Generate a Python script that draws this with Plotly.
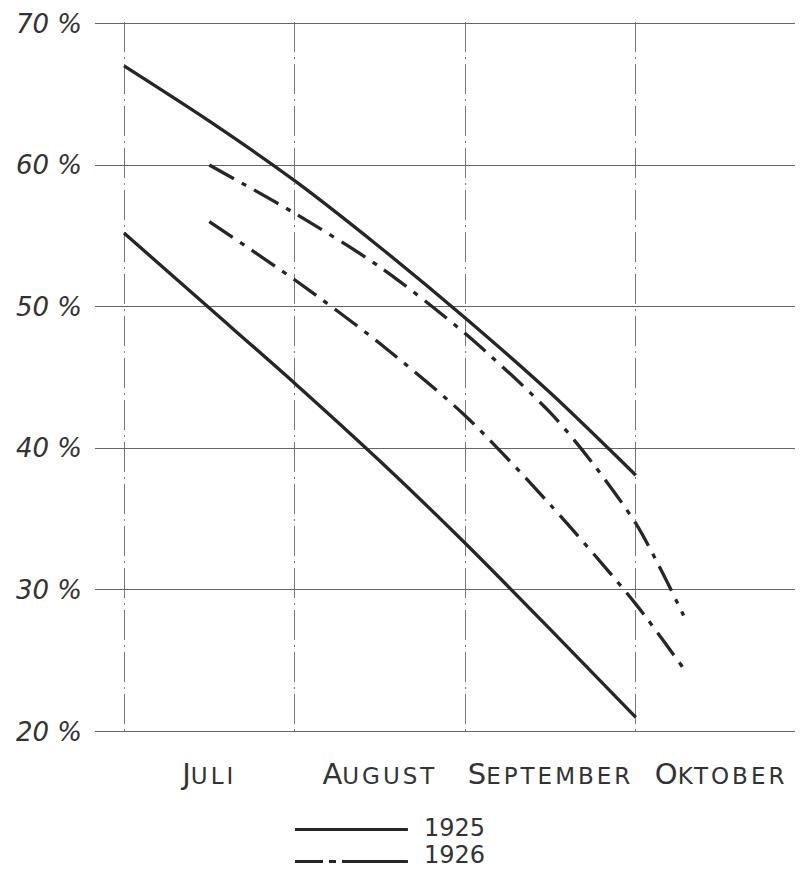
import plotly.graph_objects as go

# Months (0 = 1 July, 1 = 1 Aug, 2 = 1 Sep, 3 = 1 Oct)
month_ticks = [0.5, 1.5, 2.5, 3.5]
month_labels = ["Juli", "August", "September", "Oktober"]
boundary_months = [0, 1, 2, 3]

y_ticks = [20, 30, 40, 50, 60, 70]
y_labels = ["20 %", "30 %", "40 %", "50 %", "60 %", "70 %"]

# 1925 (solid)
x_1925 = [0, 0.5, 1, 1.5, 2, 2.5, 3]
y_1925_upper = [67.0, 63.1, 58.9, 54.2, 49.2, 43.9, 38.1]
y_1925_lower = [55.2, 49.9, 44.6, 39.1, 33.3, 27.2, 21.0]

# 1926 (dash-dot)
x_1926_upper = [0.5, 1, 1.5, 2, 2.5, 2.75, 3, 3.14, 3.28]
y_1926_upper = [60.0, 56.6, 52.8, 48.1, 42.5, 38.9, 34.7, 31.6, 28.2]
x_1926_lower = [0.5, 1, 1.5, 2, 2.5, 3, 3.28]
y_1926_lower = [56.0, 51.9, 47.4, 42.3, 36.0, 29.0, 24.45]

INK = "#262626"
DASHDOT = "28px,9px,5px,9px"


def smallcaps(word):
    return (f"<span style='font-size:29px'>{word[0].upper()}</span>"
            f"<span style='font-size:23px;letter-spacing:3px'>{word[1:].upper()}</span>")


fig = go.Figure()
for name, xs, ys, dash in [
    ("1925", x_1925, y_1925_upper, "solid"),
    ("1925 ", x_1925, y_1925_lower, "solid"),
    ("1926", x_1926_upper, y_1926_upper, DASHDOT),
    ("1926 ", x_1926_lower, y_1926_lower, DASHDOT),
]:
    fig.add_trace(go.Scatter(
        x=xs, y=ys, mode="lines", name=name, showlegend=False,
        line=dict(color=INK, width=3.3, dash=dash, shape="spline", smoothing=0.8),
        hoverinfo="x+y",
    ))

# page has an 8px body margin, so the figure is 8px smaller than the window
fig.update_layout(
    width=795, height=863,
    margin=dict(l=87, r=0, t=14, b=138),
    paper_bgcolor="white", plot_bgcolor="white",
    showlegend=False,
    xaxis=dict(
        range=[-0.17, 3.98], showgrid=False, zeroline=False, showline=False,
        tickmode="array", tickvals=month_ticks,
        ticktext=[smallcaps(m) for m in month_labels],
        ticks="", ticklabelstandoff=27,
        tickfont=dict(family="DejaVu Sans", size=23, color="#333"),
        minor=dict(tickmode="array", tickvals=boundary_months, showgrid=True,
                   gridcolor="#777", gridwidth=1, griddash="30px,5px,2px,5px",
                   ticks=""),
    ),
    yaxis=dict(
        range=[19.9, 70.1], showgrid=True, gridcolor="#666", gridwidth=1,
        zeroline=False, showline=False,
        tickmode="array", tickvals=y_ticks, ticktext=y_labels,
        ticks="", ticklabelstandoff=12,
        tickfont=dict(family="DejaVu Sans", size=26, color="#333", style="italic"),
    ),
)

# Legend drawn below the chart
legend_rows = [("1925", "solid", -0.1359, -0.1338),
               ("1926", "28px,6px,7px,6px,70px", -0.1808, -0.1720)]
for label, dash, yline, ytext in legend_rows:
    fig.add_shape(type="line", xref="paper", yref="paper",
                  x0=0.2825, x1=0.442, y0=yline, y1=yline,
                  line=dict(color=INK, width=3, dash=dash))
    fig.add_annotation(xref="paper", yref="paper", x=0.462, y=ytext,
                       xanchor="left", yanchor="middle", showarrow=False,
                       text=label, font=dict(family="DejaVu Sans", size=24, color="#333"))

fig.write_html("out.html")
